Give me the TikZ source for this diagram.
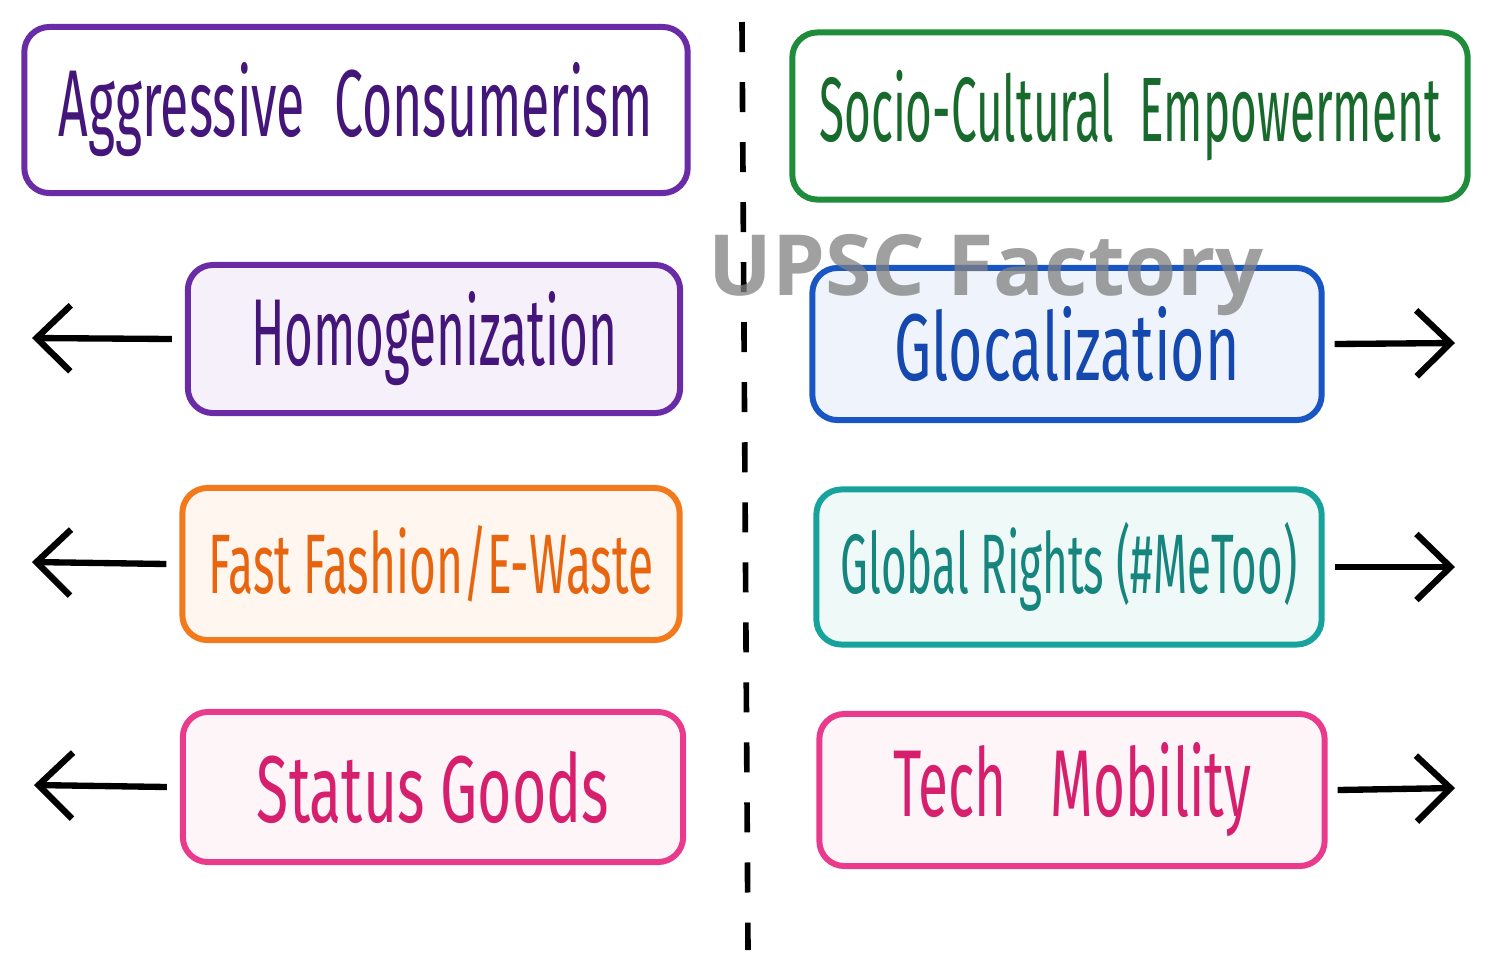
\documentclass[tikz,border=0pt]{standalone}
\usepackage{fontspec}
\usepackage{xcolor}
\usepackage{graphicx}
\setmainfont[FakeStretch=0.62]{Fira Sans}
\newfontfamily\markfont{Open Sans}
\usetikzlibrary{arrows.meta}

\definecolor{cpurple}{HTML}{6A2CA6}
\definecolor{tpurple}{HTML}{45167A}
\definecolor{cgreen}{HTML}{1E8C3A}
\definecolor{tgreen}{HTML}{17692C}
\definecolor{cblue}{HTML}{1A55C4}
\definecolor{tblue}{HTML}{1548AE}
\definecolor{corange}{HTML}{F27A1C}
\definecolor{torange}{HTML}{E8650F}
\definecolor{cteal}{HTML}{17A39C}
\definecolor{tteal}{HTML}{15857E}
\definecolor{cpink}{HTML}{EA3A8C}
\definecolor{tpink}{HTML}{D6206E}

% squeeze a label sideways
\newcommand{\narrow}[2]{\scalebox{#1}[1]{#2}}

\tikzset{
  box/.style={draw, line width=1.7pt, rounded corners=0.25cm, align=center, inner sep=0pt,
    font=\fontsize{27}{30}\selectfont},
  smalltext/.style={font=\fontsize{24}{27}\selectfont},
  sidearrow/.style={line width=1.8pt, -{Straight Barb[length=0.34cm, width=0.66cm, line width=1.8pt]}}
}

\begin{document}
\begin{tikzpicture}[x=0.01cm, y=-0.01cm]
    \useasboundingbox (0,0) rectangle (1493,972);

    % Divider
    \draw[line width=1.6pt, dash pattern=on 0.3cm off 0.3cm] (742,22) -- (748,950);

    % Headings
    \node[box, draw=cpurple, fill=white, text=tpurple, minimum width=6.63cm, minimum height=1.66cm]
        (agg) at (356,110) {\narrow{0.88}{Aggressive\hspace{0.35em}Consumerism}};
    \node[box, draw=cgreen, fill=white, text=tgreen, minimum width=6.75cm, minimum height=1.67cm,
        font=\fontsize{26}{29}\selectfont]
        (soc) at (1130,116) {\narrow{0.81}{Socio-Cultural\hspace{0.35em}Empowerment}};

    % Left column
    \node[box, draw=cpurple, fill=cpurple!7, text=tpurple, minimum width=4.92cm, minimum height=1.48cm]
        (hom) at (434,339) {\narrow{0.84}{Homogenization}};
    \node[box, smalltext, draw=corange, fill=corange!7, text=torange, minimum width=4.97cm, minimum height=1.52cm]
        (fas) at (431,564) {\narrow{0.88}{Fast Fashion/E-Waste}};
    \node[box, draw=cpink, fill=cpink!5, text=tpink, minimum width=5.00cm, minimum height=1.50cm]
        (sta) at (433,787) {Status Goods};

    % Right column
    \node[box, draw=cblue, fill=cblue!7, text=tblue, minimum width=5.09cm, minimum height=1.52cm]
        (glo) at (1067,344) {Glocalization};
    \node[box, smalltext, draw=cteal, fill=cteal!7, text=tteal, minimum width=5.05cm, minimum height=1.55cm]
        (glr) at (1069,567) {\narrow{0.84}{Global Rights (\#MeToo)}};
    \node[box, draw=cpink, fill=cpink!5, text=tpink, minimum width=5.05cm, minimum height=1.52cm]
        (tec) at (1072,790) {\narrow{0.93}{Tech\enspace Mobility}};

    % Arrow ends
    \coordinate (lhom) at (32,338);
    \coordinate (lfas) at (32,562);
    \coordinate (lsta) at (34,785);
    \coordinate (rglo) at (1455,343);
    \coordinate (rglr) at (1455,567);
    \coordinate (rtec) at (1455,788);

    % Arrows
    \foreach \b in {hom,fas,sta} {
        \draw[sidearrow] ([xshift=-0.13cm]\b.west) -- (l\b);
    }
    \foreach \b in {glo,glr,tec} {
        \draw[sidearrow] ([xshift=0.1cm]\b.east) -- (r\b);
    }

    % Watermark
    \node[text=gray, opacity=0.75, font=\markfont\bfseries\fontsize{24}{26}\selectfont]
        (mark) at (986,275) {UPSC Factory};
\end{tikzpicture}
\end{document}
